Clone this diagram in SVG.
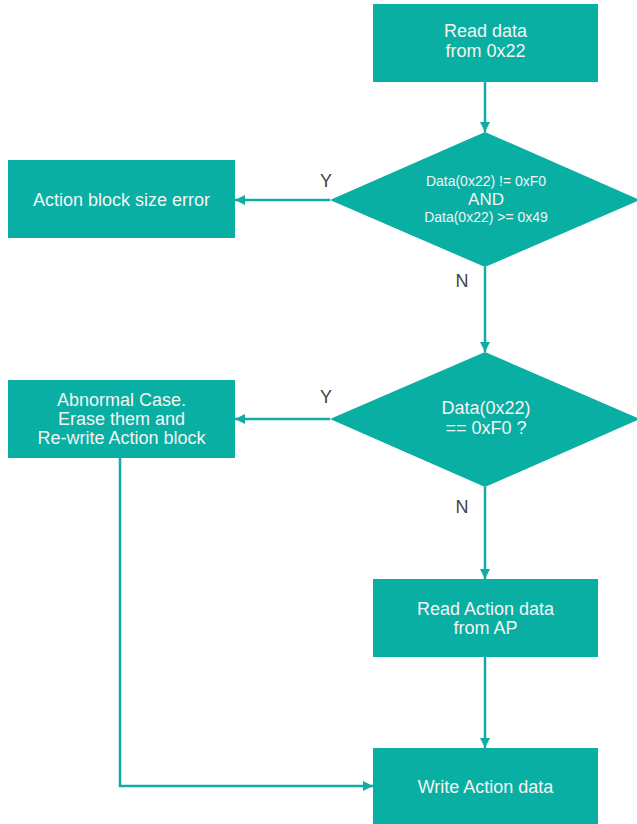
<svg xmlns="http://www.w3.org/2000/svg" width="637" height="824" viewBox="0 0 637 824">
  <style>
    .box { fill: #08AFA2; }
    .lbl { font-family: "Liberation Sans", Arial, sans-serif; font-size: 18px; fill: #F4F4F4; text-anchor: middle; }
    .sm { font-size: 14px; }
    .mid { font-size: 17px; }
    .yn { font-family: "Liberation Sans", Arial, sans-serif; font-size: 18px; fill: #444444; text-anchor: middle; }
    .edge { fill: none; stroke: #12ADA2; stroke-width: 2.5; }
  </style>
  <defs>
    <marker id="arrow" viewBox="0 0 10 10" refX="10" refY="5" markerWidth="10" markerHeight="10" markerUnits="userSpaceOnUse" orient="auto">
      <path d="M0,0 L10,5 L0,10 z" fill="#12ADA2"/>
    </marker>
  </defs>
  <rect width="637" height="824" fill="#FFFFFF"/>

  <g id="connectors">
    <line class="edge" x1="485" y1="82" x2="485" y2="132" marker-end="url(#arrow)"/>
    <line class="edge" x1="330" y1="200" x2="235" y2="200" marker-end="url(#arrow)"/>
    <line class="edge" x1="485" y1="267" x2="485" y2="352" marker-end="url(#arrow)"/>
    <line class="edge" x1="330" y1="419" x2="235" y2="419" marker-end="url(#arrow)"/>
    <line class="edge" x1="485" y1="487" x2="485" y2="579" marker-end="url(#arrow)"/>
    <line class="edge" x1="485" y1="657" x2="485" y2="748" marker-end="url(#arrow)"/>
    <polyline class="edge" points="120,458 120,786 373,786" marker-end="url(#arrow)"/>
    <text class="yn" x="326" y="187">Y</text>
    <text class="yn" x="462" y="287">N</text>
    <text class="yn" x="326" y="403">Y</text>
    <text class="yn" x="462" y="513">N</text>
  </g>

  <g id="read-data">
    <rect class="box" x="373" y="4" width="225" height="78"/>
    <text class="lbl" x="485.5" y="37">Read data</text>
    <text class="lbl" x="485.5" y="57">from 0x22</text>
  </g>

  <g id="check-size">
    <polygon class="box" points="485,132 640,200 485,267 330,200"/>
    <text class="lbl sm" x="486" y="186">Data(0x22) != 0xF0</text>
    <text class="lbl mid" x="486" y="205">AND</text>
    <text class="lbl sm" x="486" y="222">Data(0x22) &gt;= 0x49</text>
  </g>

  <g id="size-error">
    <rect class="box" x="8" y="160" width="227" height="78"/>
    <text class="lbl" x="121.5" y="206">Action block size error</text>
  </g>

  <g id="check-f0">
    <polygon class="box" points="485,352 640,419 485,487 330,419"/>
    <text class="lbl" x="486" y="414">Data(0x22)</text>
    <text class="lbl" x="486" y="434">== 0xF0 ?</text>
  </g>

  <g id="abnormal">
    <rect class="box" x="8" y="380" width="227" height="78"/>
    <text class="lbl" x="121.5" y="406">Abnormal Case.</text>
    <text class="lbl" x="121.5" y="425">Erase them and</text>
    <text class="lbl" x="121.5" y="444">Re-write Action block</text>
  </g>

  <g id="read-action">
    <rect class="box" x="373" y="579" width="225" height="78"/>
    <text class="lbl" x="485.5" y="615">Read Action data</text>
    <text class="lbl" x="485.5" y="634">from AP</text>
  </g>

  <g id="write-action">
    <rect class="box" x="373" y="748" width="225" height="80"/>
    <text class="lbl" x="485.5" y="793">Write Action data</text>
  </g>
</svg>
